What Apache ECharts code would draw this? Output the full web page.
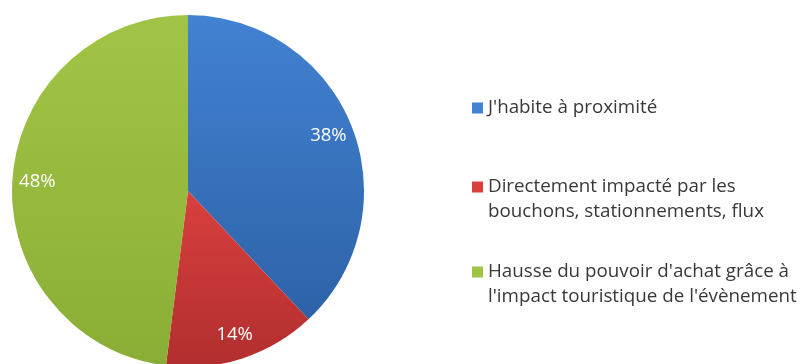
<!DOCTYPE html>
<html><head><meta charset="utf-8">
<script src="https://cdn.jsdelivr.net/npm/echarts@6/dist/echarts.min.js"></script>
<style>html,body{margin:0;padding:0;background:#fff}#c{width:807px;height:364px}</style>
</head><body><div id="c"></div>
<script>
const categories = [
  "J'habite à proximité",
  "Directement impacté par les bouchons, stationnements, flux",
  "Hausse du pouvoir d'achat grâce à l'impact touristique de l'évènement"
];
const legendLines = [
  ["J'habite à proximité"],
  ["Directement impacté par les", "bouchons, stationnements, flux"],
  ["Hausse du pouvoir d'achat grâce à", "l'impact touristique de l'évènement"]
];
const values = [38, 14, 48];
const sliceColors = [
  ['#4282D2', '#2D62A8'],
  ['#D8403E', '#B22E2E'],
  ['#A2C446', '#8AAE35']
];

const FONT = 'Open Sans';
const LH = 25;
const chart = echarts.init(document.getElementById('c'), null, {renderer: 'canvas'});

const data = categories.map((n, i) => ({
  name: n, value: values[i],
  itemStyle: { color: new echarts.graphic.LinearGradient(0, 0, 0, 1, [
    {offset: 0, color: sliceColors[i][0]}, {offset: 1, color: sliceColors[i][1]}]) }
}));

// first-line centre y of each legend entry
const legendY = [108, 187, 272];
const legends = categories.map((n, i) => {
  const lines = legendLines[i];
  const padded = lines.length > 1 ? [''].concat(lines) : lines;
  const h = padded.length * LH;
  return {
    orient: 'vertical', left: 472, top: legendY[i] - h / 2, padding: 0,
    icon: 'rect', itemWidth: 11, itemHeight: 11,
    selectedMode: false,
    data: [{name: n, itemStyle: {color: sliceColors[i][0]}}],
    formatter: () => padded.join('\n'),
    textStyle: { fontFamily: FONT, fontSize: 18.8, color: '#383838', lineHeight: LH }
  };
});

chart.setOption({
  animation: false,
  legend: legends,
  series: [
    {
      type: 'pie', center: [188, 191], radius: [0, 176],
      startAngle: 90, clockwise: true,
      data: data,
      label: {show: false}, labelLine: {show: false},
      silent: true
    },
    {
      type: 'pie', center: [188, 191], radius: [120, 176],
      startAngle: 90, clockwise: true, silent: true,
      data: categories.map((n, i) => ({name: n, value: values[i]})),
      itemStyle: {color: 'rgba(0,0,0,0)'},
      label: {
        show: true, position: 'inside', color: '#fff',
        fontFamily: FONT, fontSize: 18.5,
        formatter: p => Math.round(p.percent) + '%'
      },
      labelLine: {show: false}
    }
  ]
});
</script></body></html>
